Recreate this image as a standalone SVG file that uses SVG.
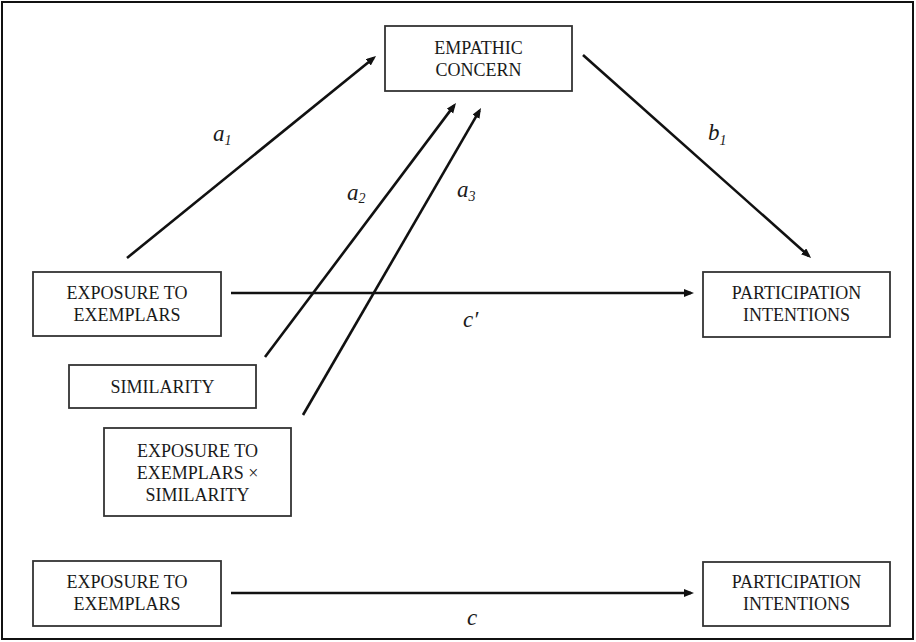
<svg xmlns="http://www.w3.org/2000/svg" width="916" height="642" viewBox="0 0 916 642">
<style>
.box{fill:#fff;stroke:#333;stroke-width:1.8}
.t{font-family:"Liberation Serif","Times New Roman",serif;font-size:18px;fill:#1a1a1a;text-anchor:middle}
.lbl{font-family:"Liberation Serif","Times New Roman",serif;font-style:italic;font-size:23px;fill:#1a1a1a}
.sub{font-size:14px}
.arr{stroke:#111;stroke-width:2.6;fill:none;marker-end:url(#ah)}
</style>
<defs>
<marker id="ah" markerUnits="userSpaceOnUse" markerWidth="11" markerHeight="9" refX="7" refY="4" orient="auto">
<path d="M0,0 L10,4 L0,8 z" fill="#111"/>
</marker>
</defs>
<rect x="0" y="0" width="916" height="642" fill="#fff"/>
<rect x="2" y="2" width="911" height="637" fill="none" stroke="#111" stroke-width="2"/>

<g id="connectors">
<line class="arr" x1="127" y1="258" x2="373.7" y2="57.9"/>
<line class="arr" x1="265" y1="357" x2="454.2" y2="105.4"/>
<line class="arr" x1="303" y1="415" x2="479.5" y2="110.6"/>
<line class="arr" x1="583" y1="55" x2="808.8" y2="256"/>
<line class="arr" x1="231" y1="293" x2="691" y2="293"/>
<line class="arr" x1="231" y1="593" x2="691" y2="593"/>
<text class="lbl" x="213" y="141">a<tspan class="sub" dy="4">1</tspan></text>
<text class="lbl" x="347" y="200">a<tspan class="sub" dy="3">2</tspan></text>
<text class="lbl" x="457" y="197">a<tspan class="sub" dy="4">3</tspan></text>
<text class="lbl" x="708" y="140">b<tspan class="sub" dy="5">1</tspan></text>
<text class="lbl" x="463" y="327">c′</text>
<text class="lbl" x="467" y="625">c</text>
</g>

<g id="empathic">
<rect class="box" x="385" y="26" width="187" height="65"/>
<text class="t" x="478.5" y="54">EMPATHIC</text>
<text class="t" x="478.5" y="76">CONCERN</text>
</g>

<g id="exposure">
<rect class="box" x="33" y="272" width="188" height="64"/>
<text class="t" x="127" y="299">EXPOSURE TO</text>
<text class="t" x="127" y="321">EXEMPLARS</text>
</g>

<g id="similarity">
<rect class="box" x="69" y="365" width="187" height="43"/>
<text class="t" x="162.5" y="393">SIMILARITY</text>
</g>

<g id="interaction">
<rect class="box" x="104" y="428" width="187" height="88"/>
<text class="t" x="197.5" y="457">EXPOSURE TO</text>
<text class="t" x="197.5" y="479">EXEMPLARS ×</text>
<text class="t" x="197.5" y="501">SIMILARITY</text>
</g>

<g id="participation">
<rect class="box" x="703" y="272" width="187" height="65"/>
<text class="t" x="796.5" y="299">PARTICIPATION</text>
<text class="t" x="796.5" y="321">INTENTIONS</text>
</g>

<g id="exposure2">
<rect class="box" x="33" y="561" width="188" height="65"/>
<text class="t" x="127" y="588">EXPOSURE TO</text>
<text class="t" x="127" y="610">EXEMPLARS</text>
</g>

<g id="participation2">
<rect class="box" x="703" y="562" width="187" height="64"/>
<text class="t" x="796.5" y="588">PARTICIPATION</text>
<text class="t" x="796.5" y="610">INTENTIONS</text>
</g>
</svg>
